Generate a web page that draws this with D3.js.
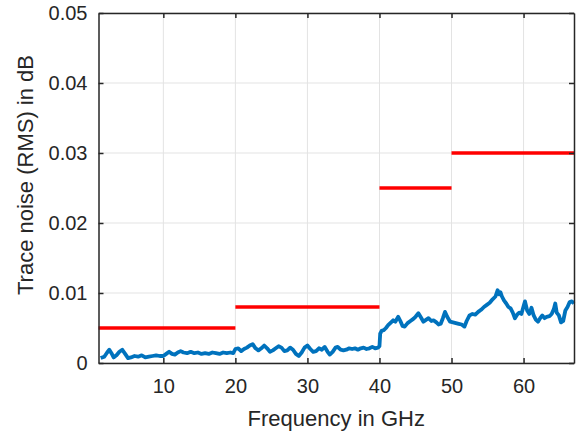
<!DOCTYPE html>
<html>
<head>
<meta charset="utf-8">
<script src="https://cdn.jsdelivr.net/npm/d3@7"></script>
<style>
  body { margin: 0; background: #fff; }
  text { font-family: "Liberation Sans", Arial, sans-serif; fill: #262626; }
</style>
</head>
<body>
<div class="canvas"></div>
<script>
// measured trace noise (blue curve)
const freqGHz = [
  1.3, 1.8, 2.2, 2.5, 2.8, 3.1, 3.5, 3.9, 4.3, 4.7, 5.1, 5.5, 6.0, 6.5, 7.0, 7.5, 8.0, 8.5, 9.0, 9.5,
  10.0, 10.4, 10.8, 11.2, 11.6, 12.0, 12.4, 12.8, 13.3, 13.8, 14.3, 14.8, 15.3, 15.8, 16.3, 16.8, 17.3, 17.8, 18.3, 18.8,
  19.3, 19.7, 20.0, 20.4, 20.8, 21.2, 21.6, 22.0, 22.4, 22.8, 23.2, 23.6, 24.0, 24.4, 24.8, 25.2, 25.6, 26.0, 26.4, 26.8,
  27.2, 27.6, 28.0, 28.4, 28.8, 29.2, 29.6, 30.0, 30.4, 30.8, 31.2, 31.6, 32.0, 32.4, 32.8, 33.1, 33.5, 33.9, 34.2, 34.6,
  35.0, 35.4, 35.8, 36.2, 36.6, 37.0, 37.4, 37.8, 38.2, 38.6, 39.0, 39.4, 39.8, 40.0, 40.1, 40.3, 40.6, 40.9, 41.2, 41.5,
  41.9, 42.2, 42.6, 42.9, 43.2, 43.5, 43.9, 44.3, 44.7, 45.0, 45.4, 45.7, 46.1, 46.5, 46.8, 47.2, 47.5, 47.9, 48.2, 48.5,
  48.8, 49.1, 49.4, 49.8, 50.2, 50.6, 51.0, 51.4, 51.8, 52.1, 52.5, 52.9, 53.3, 53.7, 54.1, 54.5, 54.9, 55.3, 55.7, 56.1,
  56.4, 56.6, 56.8, 57.0, 57.3, 57.6, 57.9, 58.2, 58.5, 58.8, 59.1, 59.4, 59.7, 60.0, 60.2, 60.5, 60.8, 61.1, 61.4, 61.7,
  62.0, 62.3, 62.6, 62.9, 63.2, 63.6, 63.9, 64.2, 64.4, 64.6, 64.9, 65.2, 65.5, 65.8, 66.1, 66.4, 66.7, 67.0
];
const noiseDb = [
  0.0007, 0.0009, 0.0015, 0.0019, 0.0014, 0.0008, 0.0011, 0.0016, 0.0019, 0.0013, 0.0007, 0.0008, 0.0010, 0.0009, 0.0011, 0.0008, 0.0009, 0.0010, 0.0011, 0.0010,
  0.0010, 0.0013, 0.0016, 0.0013, 0.0012, 0.0015, 0.0017, 0.0015, 0.0014, 0.0016, 0.0014, 0.0015, 0.0013, 0.0014, 0.0013, 0.0015, 0.0014, 0.0013, 0.0015, 0.0014,
  0.0015, 0.0014, 0.0020, 0.0021, 0.0017, 0.0020, 0.0022, 0.0025, 0.0027, 0.0021, 0.0018, 0.0021, 0.0025, 0.0021, 0.0016, 0.0018, 0.0021, 0.0024, 0.0022, 0.0017,
  0.0018, 0.0022, 0.0019, 0.0013, 0.0010, 0.0015, 0.0022, 0.0025, 0.0020, 0.0016, 0.0017, 0.0021, 0.0019, 0.0023, 0.0016, 0.0012, 0.0016, 0.0022, 0.0023, 0.0019,
  0.0018, 0.0019, 0.0021, 0.0020, 0.0021, 0.0019, 0.0021, 0.0022, 0.0020, 0.0021, 0.0023, 0.0021, 0.0022, 0.0024, 0.0042, 0.0046, 0.0047, 0.0050, 0.0054, 0.0057,
  0.0061, 0.0059, 0.0066, 0.0060, 0.0053, 0.0052, 0.0057, 0.0060, 0.0063, 0.0066, 0.0071, 0.0066, 0.0059, 0.0062, 0.0064, 0.0060, 0.0061, 0.0058, 0.0055, 0.0056,
  0.0064, 0.0073, 0.0066, 0.0059, 0.0058, 0.0057, 0.0056, 0.0055, 0.0052, 0.0060, 0.0068, 0.0070, 0.0069, 0.0073, 0.0076, 0.0080, 0.0083, 0.0086, 0.0091, 0.0095,
  0.0104, 0.0098, 0.0101, 0.0095, 0.0089, 0.0085, 0.0080, 0.0078, 0.0072, 0.0064, 0.0069, 0.0072, 0.0070, 0.0081, 0.0088, 0.0075, 0.0070, 0.0079, 0.0068, 0.0062,
  0.0059, 0.0064, 0.0068, 0.0064, 0.0066, 0.0067, 0.0070, 0.0077, 0.0085, 0.0072, 0.0068, 0.0058, 0.0060, 0.0075, 0.0080, 0.0087, 0.0088, 0.0085
];

// specification limits (red steps)
const limitStart = [1, 20, 40, 50];
const limitEnd = [20, 40, 50, 67];
const limitDb = [0.005, 0.008, 0.025, 0.03];

const xTicks = [10, 20, 30, 40, 50, 60];
const yTicks = [0, 0.01, 0.02, 0.03, 0.04, 0.05];

const margin = { top: 13, right: 2, bottom: 70, left: 98.5 };
const width = 576, height = 433;
const graphWidth = width - margin.left - margin.right;
const graphHeight = height - margin.top - margin.bottom;

const svg = d3.select(".canvas").append("svg")
  .attr("width", width)
  .attr("height", height);

const graph = svg.append("g")
  .attr("transform", `translate(${margin.left}, ${margin.top})`);

const x = d3.scaleLinear().domain([1, 67]).range([0, graphWidth]);
const y = d3.scaleLinear().domain([0, 0.05]).range([graphHeight, 0]);

// grid
const grid = graph.append("g").attr("stroke", "#e3e3e3").attr("stroke-width", 1);
grid.selectAll(".vg").data(xTicks).enter().append("line")
  .attr("x1", d => x(d)).attr("x2", d => x(d))
  .attr("y1", 0).attr("y2", graphHeight);
grid.selectAll(".hg").data(yTicks).enter().append("line")
  .attr("x1", 0).attr("x2", graphWidth)
  .attr("y1", d => y(d)).attr("y2", d => y(d));

// red limit lines
graph.selectAll(".limit").data(limitDb).enter().append("line")
  .attr("x1", (d, i) => x(limitStart[i]))
  .attr("x2", (d, i) => x(limitEnd[i]))
  .attr("y1", d => y(d)).attr("y2", d => y(d))
  .attr("stroke", "#ff0000")
  .attr("stroke-width", 3.5);

// blue trace
const points = freqGHz.map((f, i) => ({ f: f, v: noiseDb[i] }));
const line = d3.line().x(d => x(d.f)).y(d => y(d.v));
graph.append("path")
  .datum(points)
  .attr("fill", "none")
  .attr("stroke", "#0072bd")
  .attr("stroke-width", 3.8)
  .attr("stroke-linejoin", "round")
  .attr("d", line);

// axes with inward ticks on all four sides
const styleAxis = (g) => {
  g.select(".domain").attr("stroke", "#262626").attr("stroke-width", 1.5);
  g.selectAll(".tick line").attr("stroke", "#262626").attr("stroke-width", 1.5);
  g.selectAll("text").attr("fill", "#262626")
    .style("font-family", '"Liberation Sans", Arial, sans-serif')
    .style("font-size", "20px");
};

graph.append("g")
  .attr("transform", `translate(0, ${graphHeight})`)
  .call(d3.axisBottom(x).tickValues(xTicks).tickSizeInner(-5).tickSizeOuter(0).tickPadding(16))
  .call(styleAxis);

graph.append("g")
  .call(d3.axisTop(x).tickValues(xTicks).tickSizeInner(-5).tickSizeOuter(0).tickFormat(""))
  .call(styleAxis);

graph.append("g")
  .call(d3.axisLeft(y).tickValues(yTicks).tickSizeInner(-5).tickSizeOuter(0).tickPadding(11)
    .tickFormat(d => d === 0 ? "0" : d3.format(".2f")(d)))
  .call(styleAxis);

graph.append("g")
  .attr("transform", `translate(${graphWidth}, 0)`)
  .call(d3.axisRight(y).tickValues(yTicks).tickSizeInner(-5).tickSizeOuter(0).tickFormat(""))
  .call(styleAxis);

// axis labels
svg.append("text")
  .attr("x", margin.left + graphWidth / 2)
  .attr("y", 426)
  .attr("text-anchor", "middle")
  .style("font-size", "22px")
  .text("Frequency in GHz");

svg.append("text")
  .attr("transform", `translate(33, 175) rotate(-90)`)
  .attr("text-anchor", "middle")
  .style("font-size", "22px")
  .text("Trace noise (RMS) in dB");
</script>
</body>
</html>
